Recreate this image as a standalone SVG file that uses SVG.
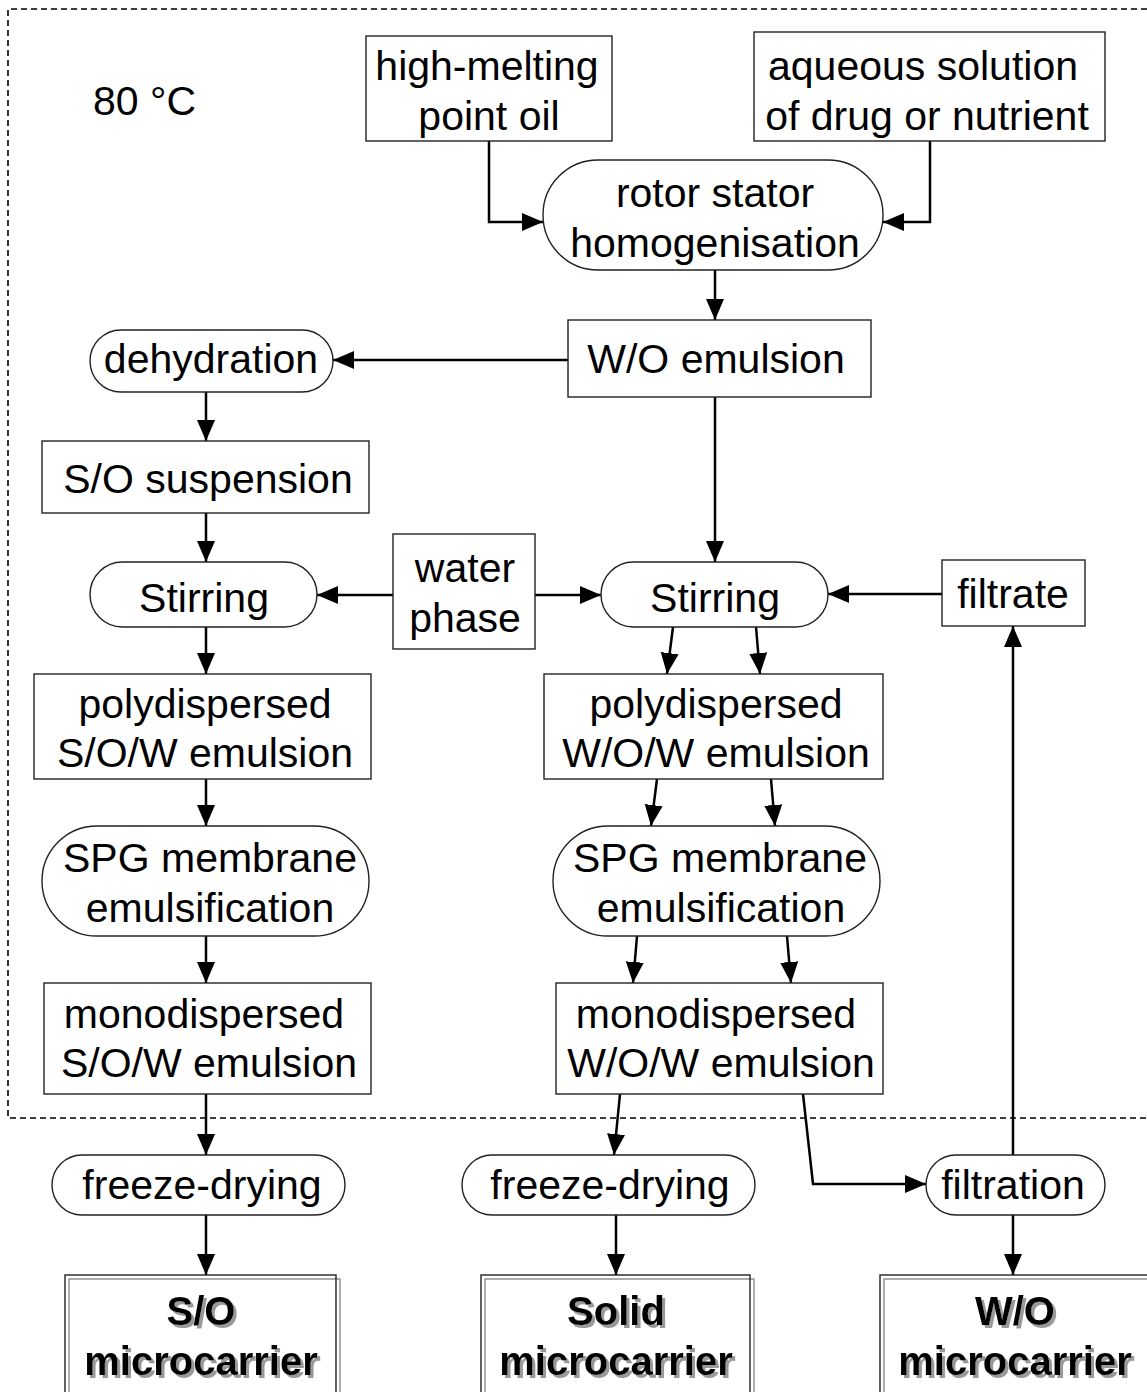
<svg xmlns="http://www.w3.org/2000/svg" width="1147" height="1392" viewBox="0 0 1147 1392">
<style>
text{font-family:"Liberation Sans",Arial,sans-serif;font-size:41px;fill:#000;text-anchor:middle}
.box{fill:#fff;stroke:#222;stroke-width:1.4}
.frame{fill:none;stroke:#222;stroke-width:1.4}
.c{fill:none;stroke:#000;stroke-width:2.5;marker-end:url(#ah)}
.bold{font-weight:bold;font-size:40px;filter:url(#shadow)}
.gbox{fill:#fff;stroke:#999;stroke-width:1.6}
</style>
<defs>
<marker id="ah" markerUnits="userSpaceOnUse" markerWidth="24" markerHeight="20" refX="21" refY="9" orient="auto">
<path d="M0,0 L21,9 L0,18 z" fill="#000"/>
</marker>
<filter id="shadow" x="-10%" y="-20%" width="120%" height="150%">
<feOffset in="SourceAlpha" dx="3" dy="3" result="off"/>
<feFlood flood-color="#999"/>
<feComposite in2="off" operator="in" result="sh"/>
<feMerge><feMergeNode in="sh"/><feMergeNode in="SourceGraphic"/></feMerge>
</filter>
</defs>
<rect width="1147" height="1392" fill="#fff"/>
<path d="M1147,9 H8 V1118 H1147" fill="none" stroke="#000" stroke-width="1.6" stroke-dasharray="6,4"/>
<text x="93" y="115" style="text-anchor:start">80 °C</text>

<g id="connectors">
<path class="c" d="M489,141 V222 H543"/>
<path class="c" d="M930,141 V222 H883"/>
<path class="c" d="M715,270 V320"/>
<path class="c" d="M568,360 H333"/>
<path class="c" d="M715,397 V562"/>
<path class="c" d="M206,392 V441"/>
<path class="c" d="M206,513 V562"/>
<path class="c" d="M393,595 H317"/>
<path class="c" d="M535,595 H601"/>
<path class="c" d="M942,594 H828"/>
<path class="c" d="M673,627 L667,674"/>
<path class="c" d="M756,627 L760,674"/>
<path class="c" d="M206,627 V674"/>
<path class="c" d="M206,779 V826"/>
<path class="c" d="M657,779 L651,826"/>
<path class="c" d="M771,779 L775,826"/>
<path class="c" d="M206,936 V983"/>
<path class="c" d="M637,936 L633,983"/>
<path class="c" d="M787,936 L791,983"/>
<path class="c" d="M206,1094 V1155"/>
<path class="c" d="M620,1094 L614,1155"/>
<path class="c" d="M803,1094 L813,1184 H926"/>
<path class="c" d="M1013,1155 V626"/>
<path class="c" d="M1013,1215 V1275"/>
<path class="c" d="M206,1215 V1275"/>
<path class="c" d="M616,1215 V1275"/>
</g>

<g id="oil"><rect class="box" x="366" y="36" width="246" height="105"/><text x="487" y="80">high-melting</text><text x="489" y="130">point oil</text></g>
<g id="aqueous"><rect class="box" x="754" y="32" width="351" height="109"/><text x="923" y="80">aqueous solution</text><text x="927" y="130">of drug or nutrient</text></g>
<g id="rotor"><rect class="box" x="543" y="160" width="340" height="110" rx="55"/><text x="715" y="207">rotor stator</text><text x="715" y="257">homogenisation</text></g>
<g id="wo"><rect class="box" x="568" y="320" width="303" height="77"/><text x="716" y="373">W/O emulsion</text></g>
<g id="dehydration"><rect class="box" x="90" y="330" width="243" height="62" rx="31"/><text x="211" y="373">dehydration</text></g>
<g id="so-susp"><rect class="box" x="42" y="441" width="327" height="72"/><text x="208" y="493">S/O suspension</text></g>
<g id="stir-l"><rect class="box" x="90" y="562" width="227" height="65" rx="32.5"/><text x="204" y="612">Stirring</text></g>
<g id="water"><rect class="box" x="393" y="534" width="142" height="115"/><text x="465" y="582">water</text><text x="465" y="632">phase</text></g>
<g id="stir-r"><rect class="box" x="601" y="562" width="227" height="65" rx="32.5"/><text x="715" y="612">Stirring</text></g>
<g id="filtrate"><rect class="box" x="942" y="560" width="143" height="66"/><text x="1013" y="608">filtrate</text></g>
<g id="poly-sow"><rect class="box" x="34" y="674" width="337" height="105"/><text x="205" y="718">polydispersed</text><text x="205" y="767">S/O/W emulsion</text></g>
<g id="poly-wow"><rect class="box" x="544" y="674" width="339" height="105"/><text x="716" y="718">polydispersed</text><text x="716" y="767">W/O/W emulsion</text></g>
<g id="spg-l"><rect class="box" x="42" y="826" width="327" height="110" rx="55"/><text x="210" y="872">SPG membrane</text><text x="210" y="922">emulsification</text></g>
<g id="spg-r"><rect class="box" x="553" y="826" width="327" height="110" rx="55"/><text x="720" y="872">SPG membrane</text><text x="721" y="922">emulsification</text></g>
<g id="mono-sow"><rect class="box" x="44" y="983" width="327" height="111"/><text x="204" y="1028">monodispersed</text><text x="209" y="1077">S/O/W emulsion</text></g>
<g id="mono-wow"><rect class="box" x="556" y="983" width="327" height="111"/><text x="716" y="1028">monodispersed</text><text x="721" y="1077">W/O/W emulsion</text></g>
<g id="fd-l"><rect class="box" x="52" y="1155" width="293" height="60" rx="30"/><text x="202" y="1199">freeze-drying</text></g>
<g id="fd-m"><rect class="box" x="462" y="1155" width="293" height="60" rx="30"/><text x="610" y="1199">freeze-drying</text></g>
<g id="filtration"><rect class="box" x="926" y="1155" width="179" height="60" rx="30"/><text x="1013" y="1199">filtration</text></g>
<g id="so-micro"><rect class="gbox" x="69" y="1279" width="271" height="118"/><rect class="frame" x="65" y="1275" width="271" height="118"/><text class="bold" x="201" y="1325">S/O</text><text class="bold" x="201" y="1375">microcarrier</text></g>
<g id="solid-micro"><rect class="gbox" x="485" y="1279" width="269" height="118"/><rect class="frame" x="481" y="1275" width="269" height="118"/><text class="bold" x="616" y="1325">Solid</text><text class="bold" x="616" y="1375">microcarrier</text></g>
<g id="wo-micro"><rect class="gbox" x="884" y="1279" width="268" height="118"/><rect class="frame" x="880" y="1275" width="268" height="118"/><text class="bold" x="1015" y="1325">W/O</text><text class="bold" x="1015" y="1375">microcarrier</text></g>
</svg>
